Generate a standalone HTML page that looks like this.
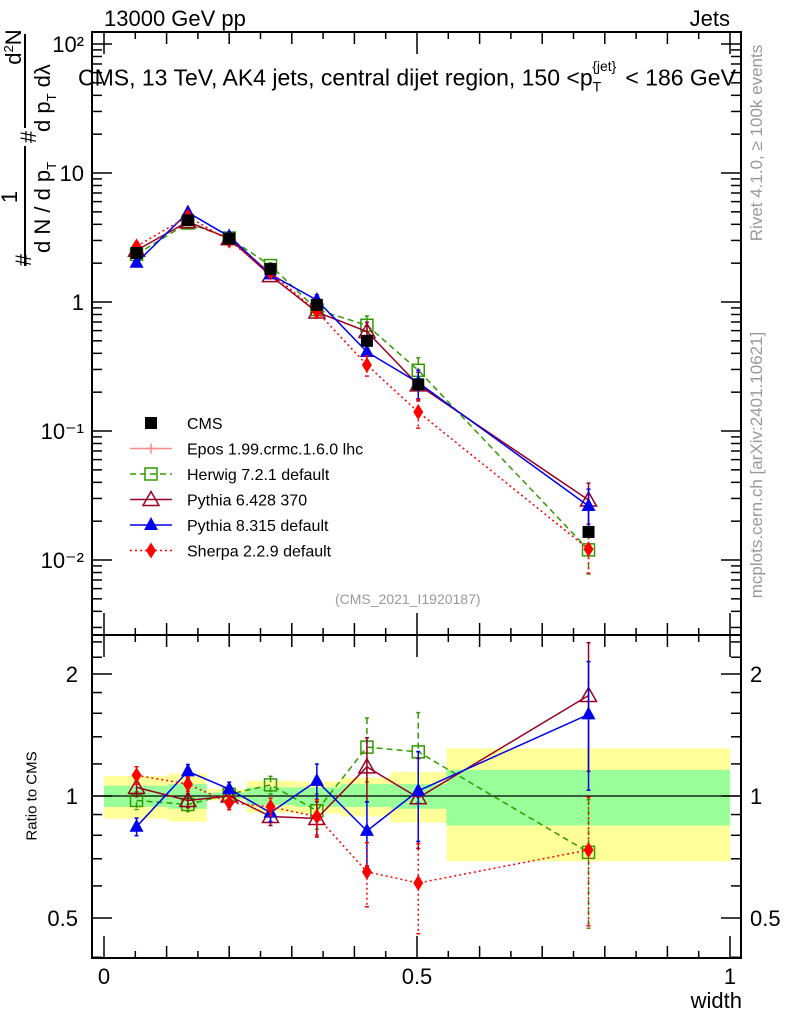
<!DOCTYPE html>
<html><head><meta charset="utf-8"><style>
body{margin:0;background:#fff}
svg{display:block;font-family:"Liberation Sans",sans-serif}
</style></head><body>
<svg id="c" width="786" height="1024" viewBox="0 0 786 1024">
<rect width="786" height="1024" fill="#fff"/>
<g id="bands"></g><g id="frame"></g><g id="series"></g><g id="labels"></g>
<g font-size="22">
 <text transform="translate(31,260) rotate(-90)" text-anchor="middle">#</text>
 <text transform="translate(17,197) rotate(-90)" text-anchor="middle">1</text>
 <line x1="25" x2="25" y1="146" y2="266" stroke="#000" stroke-width="2"/>
 <text transform="translate(50,253) rotate(-90)">d N / d p<tspan font-size="13" dy="6">T</tspan></text>
 <text transform="translate(36,137) rotate(-90)" text-anchor="middle">#</text>
 <text transform="translate(21,47) rotate(-90)" text-anchor="middle">d<tspan font-size="13" dy="-8">2</tspan><tspan dy="8">N</tspan></text>
 <line x1="25" x2="25" y1="34" y2="128" stroke="#000" stroke-width="2"/>
 <text transform="translate(50,132) rotate(-90)">d p<tspan font-size="13" dy="6">T</tspan><tspan dy="-6">  d</tspan>λ</text>
</g>
</svg>
<script>
const xCenters=[0.052,0.134,0.2,0.266,0.34,0.42,0.502,0.774];
const binEdges=[0,0.103,0.164,0.228,0.305,0.378,0.458,0.547,1.0];
const cmsValues=[2.4,4.3,3.1,1.8,0.95,0.5,0.23,0.0165];
const bandTotalHi=[1.12,1.136,1.04,1.09,1.085,1.11,1.145,1.31];
const bandTotalLo=[0.88,0.864,0.975,0.91,0.905,0.89,0.86,0.69];
const bandStatHi=[1.06,1.07,1.02,1.05,1.05,1.07,1.07,1.16];
const bandStatLo=[0.94,0.93,0.985,0.95,0.94,0.94,0.93,0.846];
const herwigRatio=[0.975,0.953,1.01,1.065,0.92,1.32,1.285,0.726];
const pythia6Ratio=[1.05,0.975,1.0,0.89,0.88,1.18,0.99,1.77];
const pythia8Ratio=[0.84,1.15,1.04,0.91,1.09,0.82,1.03,1.59];
const sherpaRatio=[1.125,1.07,0.963,0.94,0.89,0.65,0.61,0.736];
const mcRelErr=[0.05,0.04,0.04,0.05,0.1,0.18,0.25,0.35];
const mainTicks=["10\u207B\u00B2","10\u207B\u00B9","1","10","10\u00B2"];
const ratioTicks=["0.5","1","2"];
const xTicks=["0","0.5","1"];

const NS="http://www.w3.org/2000/svg";
const L=92,R=741,X0=104,X1=730,MT=32,MB=635,RT=635,RB=958;
const sx=v=>X0+(X1-X0)*v;
const sy=v=>302-129*Math.log10(v);
const ry=v=>796-122*Math.log2(v);
function mk(p,tag,a,txt){const e=document.createElementNS(NS,tag);for(const k in a)e.setAttribute(k,a[k]);if(txt!==undefined)e.textContent=txt;p.appendChild(e);return e;}
const gB=document.getElementById('bands'),gF=document.getElementById('frame'),gS=document.getElementById('series'),gL=document.getElementById('labels');

for(let i=0;i<8;i++){
  const y=mk(gB,'rect',{x:sx(binEdges[i]),y:ry(bandTotalHi[i]),width:sx(binEdges[i+1])-sx(binEdges[i]),height:ry(bandTotalLo[i])-ry(bandTotalHi[i]),fill:'#ffff99'});
  
  
  const g=mk(gB,'rect',{x:sx(binEdges[i]),y:ry(bandStatHi[i]),width:sx(binEdges[i+1])-sx(binEdges[i]),height:ry(bandStatLo[i])-ry(bandStatHi[i]),fill:'#99ff99'});
  
  
}
mk(gB,'line',{x1:L,x2:R,y1:ry(1),y2:ry(1),stroke:'#000','stroke-width':1.2});

const st={fill:'none',stroke:'#000','stroke-width':2};
const f1=mk(gF,'rect',Object.assign({x:L,y:MT,width:R-L,height:MB-MT},st));

const f2=mk(gF,'rect',Object.assign({x:L,y:RT,width:R-L,height:RB-RT},st));

for(let k=0;k<=20;k++){const v=k/20,x=sx(v);const len=k%10==0?22:(k%2==0?12:7);
 for(const [y,d] of [[MT,1],[MB,-1],[RT,1],[RB,-1]]) mk(gF,'line',{x1:x,x2:x,y1:y,y2:y+d*len,stroke:'#000','stroke-width':1.5});}
xTicks.forEach((t,i)=>{const e=mk(gL,'text',{x:sx(i*0.5),y:984,'font-size':22,'text-anchor':'middle'},t);});
for(let d=-3;d<=2;d++)for(let m=1;m<=9;m++){const v=m*Math.pow(10,d),y=sy(v);if(y<MT||y>MB)continue;const len=m==1?20:10;
 mk(gF,'line',{x1:L,x2:L+len,y1:y,y2:y,stroke:'#000','stroke-width':1.5});mk(gF,'line',{x1:R,x2:R-len,y1:y,y2:y,stroke:'#000','stroke-width':1.5});}
const mtv=[0.01,0.1,1,10,100];
mtv.forEach((v,i)=>{const e=mk(gL,'text',{x:84,y:sy(v)+8,'font-size':22,'text-anchor':'end'},mainTicks[i]);});
[0.4,0.5,0.6,0.7,0.8,0.9,1,1.2,1.4,1.6,1.8,2,2.2,2.4].forEach(v=>{const y=ry(v);if(y<RT||y>RB)return;const len=(v==0.5||v==1||v==2)?20:10;
 mk(gF,'line',{x1:L,x2:L+len,y1:y,y2:y,stroke:'#000','stroke-width':1.5});mk(gF,'line',{x1:R,x2:R-len,y1:y,y2:y,stroke:'#000','stroke-width':1.5});});
[0.5,1,2].forEach((v,i)=>{const a=mk(gL,'text',{x:78,y:ry(v)+8,'font-size':22,'text-anchor':'end'},ratioTicks[i]);
 const b=mk(gL,'text',{x:750,y:ry(v)+8,'font-size':22},ratioTicks[i]);});

function marker(g,type,x,y,col){
 if(type=='sq') return mk(g,'rect',{x:x-6,y:y-6,width:12,height:12,fill:'#000'});
 if(type=='osq') return mk(g,'rect',{x:x-6,y:y-6,width:12,height:12,fill:'#fff','fill-opacity':0,stroke:col,'stroke-width':1.5});
 if(type=='otri') return mk(g,'polygon',{points:`${x},${y-8} ${x-8},${y+6} ${x+8},${y+6}`,fill:'none',stroke:col,'stroke-width':1.5});
 if(type=='tri') return mk(g,'polygon',{points:`${x},${y-8} ${x-7},${y+5} ${x+7},${y+5}`,fill:col});
 if(type=='dia') return mk(g,'polygon',{points:`${x},${y-8} ${x-5},${y} ${x},${y+8} ${x+5},${y}`,fill:col});
 if(type=='cross') {const p=mk(g,'g',{});mk(p,'line',{x1:x-5,x2:x+5,y1:y,y2:y,stroke:col,'stroke-width':1.5});mk(p,'line',{x1:x,x2:x,y1:y-5,y2:y+5,stroke:col,'stroke-width':1.5});return p;}
}
function errbar(g,x,y1,y2,col,dash){
 mk(g,'line',{x1:x,x2:x,y1:y1,y2:y2,stroke:col,'stroke-width':1.5,'stroke-dasharray':dash});
 mk(g,'line',{x1:x-2,x2:x+2,y1:y1,y2:y1,stroke:col,'stroke-width':1.5});
 mk(g,'line',{x1:x-2,x2:x+2,y1:y2,y2:y2,stroke:col,'stroke-width':1.5});
}
const series=[
 {name:'herwig',r:herwigRatio,col:'#339900',type:'osq',dash:'6,4'},
 {name:'pythia6',r:pythia6Ratio,col:'#990022',type:'otri',dash:''},
 {name:'pythia8',r:pythia8Ratio,col:'#0000ee',type:'tri',dash:''},
 {name:'sherpa',r:sherpaRatio,col:'#ff0000',type:'dia',dash:'2,3'}];
series.forEach(s=>{
 const g=mk(gS,'g',{});
 
 
 const mp=[],rp=[];
 for(let i=0;i<8;i++){const v=cmsValues[i]*s.r[i];const x=sx(xCenters[i]);mp.push([x,sy(v)]);rp.push([x,ry(s.r[i])]);
  const e=mcRelErr[i];
  errbar(g,x,sy(v*(1+e)),sy(v*(1-e)),s.col,s.dash);
  errbar(g,x,ry(s.r[i]*(1+e)),ry(s.r[i]*(1-e)),s.col,s.dash);}
 mk(g,'polyline',{points:mp.map(p=>p.join(',')).join(' '),fill:'none',stroke:s.col,'stroke-width':1.5,'stroke-dasharray':s.dash});
 mk(g,'polyline',{points:rp.map(p=>p.join(',')).join(' '),fill:'none',stroke:s.col,'stroke-width':1.5,'stroke-dasharray':s.dash});
 mp.forEach(p=>{const m=marker(g,s.type,p[0],p[1],s.col);});
 rp.forEach(p=>{const m=marker(g,s.type,p[0],p[1],s.col);});
});
const gc=mk(gS,'g',{});
cmsValues.forEach((v,i)=>{const m=marker(gc,'sq',sx(xCenters[i]),sy(v),'#000');});

const leg=[['CMS','#000','sq',''],['Epos 1.99.crmc.1.6.0 lhc','#ff8888','cross',''],['Herwig 7.2.1 default','#339900','osq','6,4'],['Pythia 6.428 370','#990022','otri',''],['Pythia 8.315 default','#0000ee','tri',''],['Sherpa 2.2.9 default','#ff0000','dia','2,3']];
leg.forEach((l,i)=>{const y=423+i*25.5;const g=mk(gL,'g',{});
 
 
 if(i>0) mk(g,'line',{x1:130,x2:172,y1:y,y2:y,stroke:l[1],'stroke-width':1.5,'stroke-dasharray':l[3]});
 marker(g,l[2],151,y,l[1]);
 mk(g,'text',{x:187,y:y+6,'font-size':16},l[0]);});
</script>
<div style="position:absolute;left:0;top:0;width:786px;height:1024px;font-family:'Liberation Sans',sans-serif;pointer-events:none">
<div style="position:absolute;left:104px;top:6px;font-size:22px">13000 GeV pp</div>
<div style="position:absolute;right:56px;top:6px;font-size:22px">Jets</div>
<div style="position:absolute;left:78px;top:64px;font-size:23px;white-space:nowrap">CMS, 13 TeV, AK4 jets, central dijet region, 150 &lt;p<sub style="font-size:14px">T</sub><sup style="font-size:14px;position:relative;left:-9px;top:-6px">{jet}</sup>&lt; 186 GeV</div>
<div style="position:absolute;left:335px;top:591px;font-size:14px;color:#999">(CMS_2021_I1920187)</div>
<div style="position:absolute;right:44px;top:988px;font-size:22px">width</div>
<div style="position:absolute;left:32px;top:796px;transform:translate(-50%,-50%) rotate(-90deg);font-size:15px;white-space:nowrap">Ratio to CMS</div>
<div style="position:absolute;left:757px;top:143px;transform:translate(-50%,-50%) rotate(-90deg);font-size:17px;color:#999;white-space:nowrap">Rivet 4.1.0, ≥ 100k events</div>
<div style="position:absolute;left:757px;top:465px;transform:translate(-50%,-50%) rotate(-90deg);font-size:17px;color:#999;white-space:nowrap">mcplots.cern.ch [arXiv:2401.10621]</div>
</div>
</body></html>
